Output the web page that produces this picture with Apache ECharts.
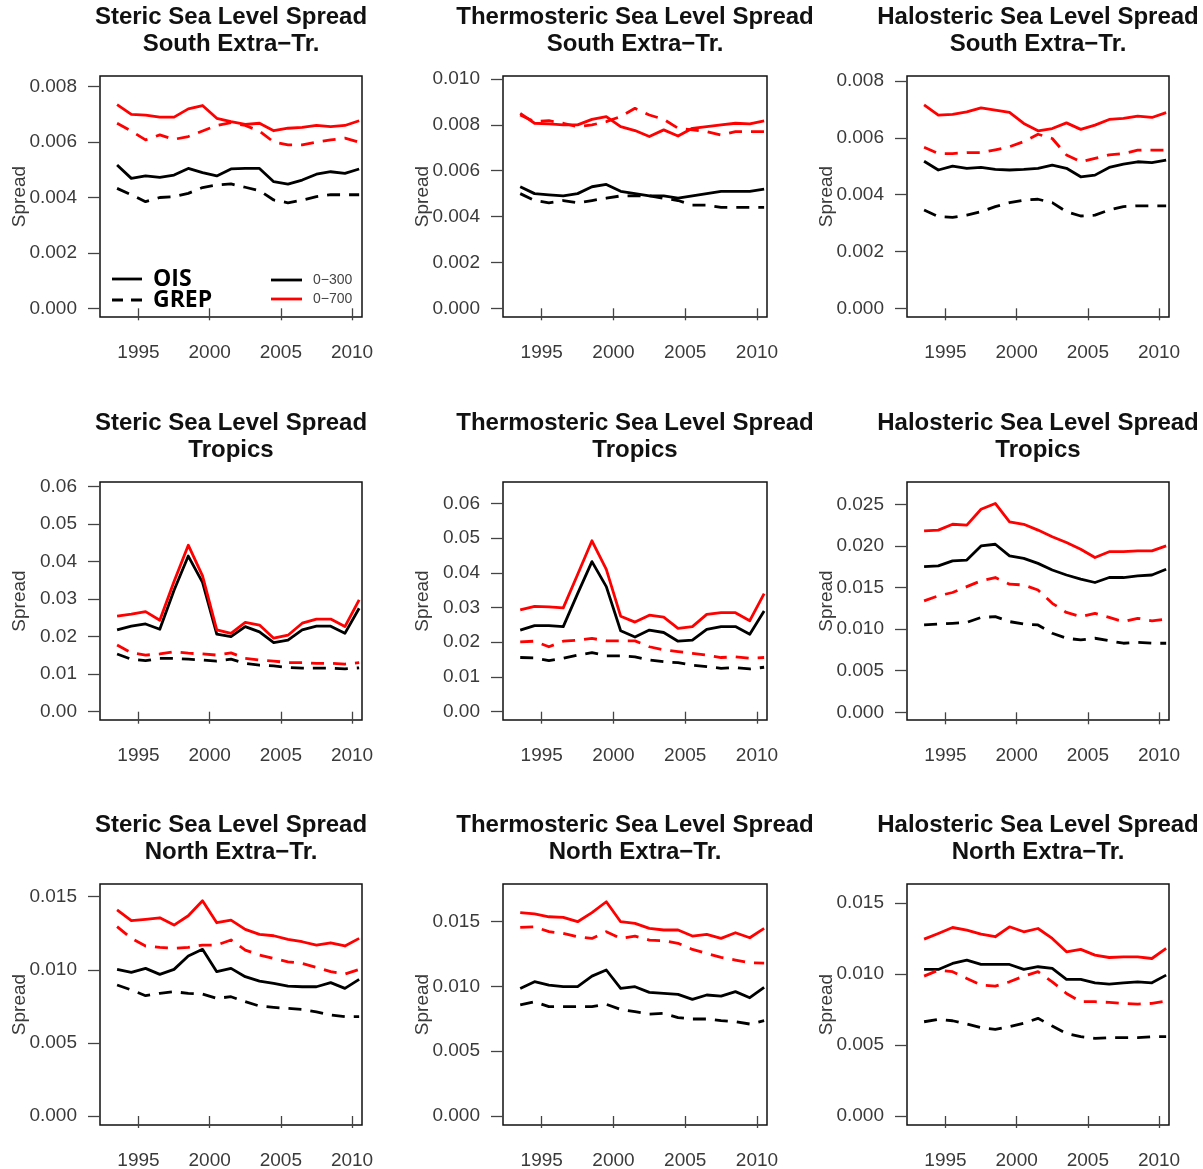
<!DOCTYPE html>
<html>
<head>
<meta charset="utf-8">
<script src="https://cdn.jsdelivr.net/npm/echarts@6/dist/echarts.min.js"></script>
<style>
  html, body { margin: 0; padding: 0; background: #fff; }
  #main { width: 1203px; height: 1169px; }
</style>
</head>
<body>
<div id="main"></div>
<script>
// annual means, mid-year
var years = [1993.5, 1994.5, 1995.5, 1996.5, 1997.5, 1998.5, 1999.5, 2000.5, 2001.5,
             2002.5, 2003.5, 2004.5, 2005.5, 2006.5, 2007.5, 2008.5, 2009.5, 2010.5];
var yearTicks = [1995, 2000, 2005, 2010];

// Steric - South Extra-Tr.
var stSouthOis300  = [0.00517, 0.00469, 0.00478, 0.00473, 0.00481, 0.00505, 0.0049, 0.00478, 0.00503, 0.00505, 0.00505, 0.00457, 0.00448, 0.00463, 0.00484, 0.00493, 0.00487, 0.00503];
var stSouthGrep300 = [0.00433, 0.0041, 0.00385, 0.004, 0.00403, 0.00415, 0.00436, 0.00445, 0.00449, 0.00437, 0.00425, 0.00391, 0.00381, 0.0039, 0.00403, 0.0041, 0.0041, 0.0041];
var stSouthOis700  = [0.00735, 0.0070, 0.00697, 0.0069, 0.0069, 0.0072, 0.00732, 0.00686, 0.00674, 0.00664, 0.00668, 0.00641, 0.0065, 0.00653, 0.0066, 0.00656, 0.0066, 0.00677];
var stSouthGrep700 = [0.00668, 0.0064, 0.00608, 0.00626, 0.0061, 0.0062, 0.0064, 0.0066, 0.0067, 0.0066, 0.0064, 0.006, 0.0059, 0.0059, 0.006, 0.00608, 0.00614, 0.006];

// Thermosteric - South Extra-Tr.
var thSouthOis300  = [0.0053, 0.0050, 0.00495, 0.0049, 0.0050, 0.0053, 0.0054, 0.0051, 0.0050, 0.0049, 0.0049, 0.0048, 0.0049, 0.0050, 0.0051, 0.0051, 0.0051, 0.0052];
var thSouthGrep300 = [0.0050, 0.0047, 0.0046, 0.0047, 0.0046, 0.0047, 0.0048, 0.0049, 0.0049, 0.0049, 0.0048, 0.0047, 0.0045, 0.0045, 0.0044, 0.0044, 0.0044, 0.0044];
var thSouthOis700  = [0.0085, 0.00807, 0.00804, 0.0080, 0.0080, 0.00824, 0.00836, 0.00792, 0.00775, 0.00749, 0.00778, 0.00751, 0.00785, 0.00792, 0.0080, 0.00807, 0.00804, 0.00817];
var thSouthGrep700 = [0.00843, 0.00814, 0.00818, 0.00807, 0.00792, 0.0080, 0.00814, 0.00836, 0.00872, 0.00843, 0.00824, 0.00785, 0.00778, 0.0077, 0.00756, 0.0077, 0.0077, 0.0077];

// Halosteric - South Extra-Tr.
var haSouthOis300  = [0.00518, 0.00487, 0.00501, 0.00493, 0.00496, 0.00489, 0.00487, 0.00489, 0.00493, 0.00504, 0.00493, 0.00463, 0.00469, 0.00496, 0.00508, 0.00516, 0.00513, 0.00522];
var haSouthGrep300 = [0.00346, 0.00323, 0.0032, 0.00328, 0.0034, 0.00358, 0.00372, 0.00381, 0.00384, 0.00372, 0.0034, 0.00325, 0.00328, 0.00346, 0.00358, 0.00361, 0.00361, 0.00361];
var haSouthOis700  = [0.00716, 0.0068, 0.00683, 0.00692, 0.00706, 0.00698, 0.0069, 0.00651, 0.00625, 0.00633, 0.00653, 0.0063, 0.00645, 0.00665, 0.00669, 0.00677, 0.00672, 0.00689];
var haSouthGrep700 = [0.00567, 0.00545, 0.00545, 0.00548, 0.00548, 0.00558, 0.00569, 0.00587, 0.00613, 0.00598, 0.0054, 0.00516, 0.00528, 0.0054, 0.00545, 0.00557, 0.00557, 0.00557];

// Steric - Tropics
var stTropOis300  = [0.0218, 0.0228, 0.0234, 0.022, 0.0324, 0.0415, 0.0345, 0.0207, 0.020, 0.0227, 0.0213, 0.0184, 0.0191, 0.0218, 0.0228, 0.0228, 0.0209, 0.0276];
var stTropGrep300 = [0.0154, 0.014, 0.0136, 0.0142, 0.0142, 0.014, 0.0138, 0.0135, 0.014, 0.0129, 0.0124, 0.0122, 0.0118, 0.0116, 0.0116, 0.0116, 0.0114, 0.0117];
var stTropOis700  = [0.0255, 0.026, 0.0267, 0.0244, 0.0347, 0.0444, 0.0362, 0.0218, 0.0209, 0.0238, 0.0231, 0.0196, 0.0204, 0.0236, 0.0247, 0.0247, 0.0227, 0.0298];
var stTropGrep700 = [0.0178, 0.0157, 0.0151, 0.0154, 0.016, 0.0156, 0.0154, 0.0151, 0.0157, 0.0142, 0.0138, 0.0135, 0.0131, 0.0131, 0.0129, 0.0129, 0.0127, 0.0131];

// Thermosteric - Tropics
var thTropOis300  = [0.0235, 0.0248, 0.0248, 0.0245, 0.034, 0.0432, 0.036, 0.0233, 0.0215, 0.0235, 0.0228, 0.0203, 0.0206, 0.0237, 0.0245, 0.0245, 0.0223, 0.029];
var thTropGrep300 = [0.0156, 0.0155, 0.0147, 0.0154, 0.0163, 0.017, 0.0161, 0.0161, 0.0158, 0.0149, 0.0144, 0.0141, 0.0134, 0.013, 0.0125, 0.0127, 0.0123, 0.0128];
var thTropOis700  = [0.0293, 0.0303, 0.0302, 0.0299, 0.0395, 0.0492, 0.041, 0.0275, 0.0258, 0.0278, 0.0272, 0.024, 0.0245, 0.028, 0.0285, 0.0285, 0.0262, 0.034];
var thTropGrep700 = [0.0201, 0.0203, 0.0187, 0.0203, 0.0206, 0.0211, 0.0204, 0.0204, 0.0204, 0.0187, 0.0178, 0.0173, 0.0168, 0.0163, 0.0156, 0.0158, 0.0154, 0.0156];

// Halosteric - Tropics
var haTropOis300  = [0.0175, 0.0176, 0.0182, 0.0183, 0.020, 0.0202, 0.0188, 0.0185, 0.0179, 0.0171, 0.0165, 0.016, 0.0156, 0.0162, 0.0162, 0.0164, 0.0165, 0.0172];
var haTropGrep300 = [0.0105, 0.0106, 0.0107, 0.0108, 0.0114, 0.0115, 0.0109, 0.0106, 0.0105, 0.0095, 0.0089, 0.0087, 0.0089, 0.0086, 0.0083, 0.0084, 0.0083, 0.0083];
var haTropOis700  = [0.0218, 0.0219, 0.0226, 0.0225, 0.0244, 0.0251, 0.0229, 0.0226, 0.0219, 0.0211, 0.0204, 0.0196, 0.0186, 0.0193, 0.0193, 0.0194, 0.0194, 0.020];
var haTropGrep700 = [0.0134, 0.014, 0.0144, 0.0151, 0.0158, 0.0162, 0.0154, 0.0153, 0.0147, 0.0131, 0.012, 0.0115, 0.0119, 0.0114, 0.0109, 0.0113, 0.011, 0.0112];

// Steric - North Extra-Tr.
var stNorthOis300  = [0.01003, 0.00982, 0.0101, 0.00969, 0.01003, 0.01094, 0.0114, 0.00987, 0.0101, 0.00953, 0.00923, 0.00907, 0.00889, 0.00884, 0.00884, 0.00912, 0.00873, 0.00935];
var stNorthGrep300 = [0.00896, 0.00862, 0.00823, 0.00839, 0.0085, 0.00839, 0.00834, 0.00805, 0.00816, 0.00782, 0.00752, 0.00743, 0.00736, 0.00729, 0.00713, 0.00691, 0.00679, 0.0068];
var stNorthOis700  = [0.0141, 0.01336, 0.01345, 0.01356, 0.01306, 0.0137, 0.01473, 0.01322, 0.0134, 0.01277, 0.01242, 0.01233, 0.01208, 0.01192, 0.01169, 0.01185, 0.01163, 0.01215];
var stNorthGrep700 = [0.01295, 0.01215, 0.01163, 0.01153, 0.01147, 0.01153, 0.01169, 0.01169, 0.01204, 0.01135, 0.01101, 0.01078, 0.01055, 0.01044, 0.01017, 0.00987, 0.00971, 0.01003];

// Thermosteric - North Extra-Tr.
var thNorthOis300  = [0.00985, 0.01037, 0.01011, 0.00998, 0.00998, 0.0108, 0.01127, 0.00985, 0.00998, 0.00954, 0.00947, 0.00939, 0.009, 0.00934, 0.00926, 0.0096, 0.00913, 0.00993];
var thNorthGrep300 = [0.00857, 0.00882, 0.00844, 0.00844, 0.00844, 0.00844, 0.00862, 0.00823, 0.00805, 0.00787, 0.00792, 0.00759, 0.00749, 0.00749, 0.00736, 0.00728, 0.0071, 0.00736];
var thNorthOis700  = [0.0157, 0.0156, 0.01538, 0.01533, 0.015, 0.0157, 0.01654, 0.015, 0.01487, 0.01448, 0.01436, 0.01436, 0.01389, 0.01402, 0.01371, 0.01415, 0.01376, 0.01448];
var thNorthGrep700 = [0.01456, 0.01461, 0.01423, 0.0141, 0.01384, 0.01371, 0.01423, 0.01371, 0.01389, 0.01358, 0.01353, 0.01333, 0.01286, 0.01255, 0.01225, 0.01204, 0.01183, 0.0118];

// Halosteric - North Extra-Tr.
var haNorthOis300  = [0.01031, 0.01031, 0.01073, 0.01097, 0.01066, 0.01066, 0.01066, 0.01031, 0.0105, 0.01038, 0.00961, 0.00961, 0.00937, 0.00928, 0.00937, 0.00944, 0.00937, 0.00991];
var haNorthGrep300 = [0.00663, 0.0068, 0.0067, 0.00647, 0.00621, 0.00609, 0.00628, 0.00652, 0.00687, 0.00633, 0.00581, 0.00558, 0.00546, 0.00551, 0.00551, 0.00551, 0.00558, 0.00558];
var haNorthOis700  = [0.01244, 0.01284, 0.01326, 0.01308, 0.0128, 0.01261, 0.01331, 0.01296, 0.01319, 0.01249, 0.01155, 0.01172, 0.01132, 0.01115, 0.0112, 0.0112, 0.01108, 0.01179];
var haNorthGrep700 = [0.00984, 0.01026, 0.01015, 0.00968, 0.00921, 0.00914, 0.00944, 0.00984, 0.01015, 0.00944, 0.00862, 0.00804, 0.00804, 0.00799, 0.00792, 0.00787, 0.00792, 0.00808];

// y tick labels
var ticksSouth8  = [0, 0.002, 0.004, 0.006, 0.008];
var ticksSouth10 = [0, 0.002, 0.004, 0.006, 0.008, 0.010];
var ticksTrop6   = [0, 0.01, 0.02, 0.03, 0.04, 0.05, 0.06];
var ticksTrop25  = [0, 0.005, 0.010, 0.015, 0.020, 0.025];
var ticksNorth   = [0, 0.005, 0.010, 0.015];

var colNames = ['Steric Sea Level Spread', 'Thermosteric Sea Level Spread', 'Halosteric Sea Level Spread'];
var rowNames = ['South Extra\u2212Tr.', 'Tropics', 'North Extra\u2212Tr.'];

// panel layout (px)
var colLeft = [100, 503, 907];
var colWidth = [262, 264, 262];
var rowTop = [76, 482, 884];
var rowHeight = [241, 238, 241];

var panels = [
  { lines: [stSouthOis300, stSouthGrep300, stSouthOis700, stSouthGrep700], ticks: ticksSouth8, dec: 3, min: -0.000314, max: 0.008386 },
  { lines: [thSouthOis300, thSouthGrep300, thSouthOis700, thSouthGrep700], ticks: ticksSouth10, dec: 3, min: -0.00038, max: 0.01013 },
  { lines: [haSouthOis300, haSouthGrep300, haSouthOis700, haSouthGrep700], ticks: ticksSouth8, dec: 3, min: -0.000306, max: 0.00818 },
  { lines: [stTropOis300, stTropGrep300, stTropOis700, stTropGrep700], ticks: ticksTrop6, dec: 2, min: -0.00221, max: 0.06125 },
  { lines: [thTropOis300, thTropGrep300, thTropOis700, thTropGrep700], ticks: ticksTrop6, dec: 2, min: -0.00239, max: 0.06613 },
  { lines: [haTropOis300, haTropGrep300, haTropOis700, haTropGrep700], ticks: ticksTrop25, dec: 3, min: -0.000925, max: 0.02768 },
  { lines: [stNorthOis300, stNorthGrep300, stNorthOis700, stNorthGrep700], ticks: ticksNorth, dec: 3, min: -0.000616, max: 0.01587 },
  { lines: [thNorthOis300, thNorthGrep300, thNorthOis700, thNorthGrep700], ticks: ticksNorth, dec: 3, min: -0.000695, max: 0.01791 },
  { lines: [haNorthOis300, haNorthGrep300, haNorthOis700, haNorthGrep700], ticks: ticksNorth, dec: 3, min: -0.000633, max: 0.01632 }
];

var lineColors = ['#000000', '#000000', '#ff0000', '#ff0000'];
var dashed = [false, true, false, true];
var dashPattern = [13, 9];
var axisFont = '"Liberation Sans", Arial, Helvetica, sans-serif';

var myChart = echarts.init(document.getElementById('main'), null, { renderer: 'canvas' });

var grids = [], xAxes = [], yAxes = [], series = [], graphics = [];

var $each = function (arr, fn) { for (var i = 0; i < arr.length; i++) fn(arr[i], i); };

$each(panels, function (p, k) {
  var r = Math.floor(k / 3), c = k % 3;
  grids.push({
    left: colLeft[c], top: rowTop[r], width: colWidth[c], height: rowHeight[r],
    show: true, borderColor: '#111', borderWidth: 1.5, backgroundColor: 'transparent',
    containLabel: false, outerBoundsMode: 'none'
  });
  xAxes.push({
    type: 'value', gridIndex: k, min: 1992.3, max: 2010.7,
    axisLine: { show: false },
    splitLine: { show: false },
    axisTick: { show: true, length: 12, customValues: yearTicks, lineStyle: { color: '#444', width: 1.3 } },
    axisLabel: { customValues: yearTicks, margin: 26, fontSize: 19, color: '#3a3a3a', fontFamily: axisFont,
                 formatter: function (v) { return String(v); } }
  });
  yAxes.push({
    type: 'value', gridIndex: k, min: p.min, max: p.max,
    // R overlays the axis title on the tick labels; don't let echarts push it away
    name: 'Spread', nameLocation: 'middle', nameGap: 71, nameRotate: 90, nameMoveOverlap: false,
    nameTextStyle: { fontSize: 19, color: '#3a3a3a', fontFamily: axisFont },
    axisLine: { show: false },
    splitLine: { show: false },
    axisTick: { show: true, length: 12, customValues: p.ticks, lineStyle: { color: '#444', width: 1.3 } },
    axisLabel: { customValues: p.ticks, margin: 23, fontSize: 19, color: '#3a3a3a', fontFamily: axisFont,
                 formatter: (function (d) { return function (v) { return v.toFixed(d); }; })(p.dec) }
  });
  $each(p.lines, function (vals, j) {
    series.push({
      type: 'line', xAxisIndex: k, yAxisIndex: k,
      data: years.map(function (x, i) { return [x, vals[i]]; }),
      symbol: 'none', silent: true,
      lineStyle: { color: lineColors[j], width: 2.8, type: dashed[j] ? dashPattern : 'solid', cap: 'butt', join: 'round' }
    });
  });
  // two-line panel title, centred over the box
  graphics.push({
    type: 'text', x: colLeft[c] + colWidth[c] / 2, y: rowTop[r] - 72,
    style: {
      text: colNames[c] + '\n' + rowNames[r],
      font: 'bold 24px ' + axisFont, fill: '#111',
      align: 'center', verticalAlign: 'top', lineHeight: 27
    }
  });
});

// legend inside the first panel
graphics.push(
  { type: 'line', shape: { x1: 112, y1: 279, x2: 142, y2: 279 }, style: { stroke: '#000', lineWidth: 2.8 } },
  { type: 'line', shape: { x1: 112, y1: 300, x2: 142, y2: 300 }, style: { stroke: '#000', lineWidth: 2.8, lineDash: [11, 8] } },
  { type: 'text', x: 153, y: 279, style: { text: 'OIS', font: 'bold 23px "Open Sans", sans-serif', fill: '#000', verticalAlign: 'middle' } },
  { type: 'text', x: 153, y: 300, style: { text: 'GREP', font: 'bold 23px "Open Sans", sans-serif', fill: '#000', verticalAlign: 'middle' } },
  { type: 'line', shape: { x1: 271, y1: 280, x2: 302, y2: 280 }, style: { stroke: '#000', lineWidth: 2.8 } },
  { type: 'line', shape: { x1: 271, y1: 299, x2: 302, y2: 299 }, style: { stroke: '#ff0000', lineWidth: 2.8 } },
  { type: 'text', x: 313, y: 280, style: { text: '0\u2212300', font: '14px ' + axisFont, fill: '#444', verticalAlign: 'middle' } },
  { type: 'text', x: 313, y: 299, style: { text: '0\u2212700', font: '14px ' + axisFont, fill: '#444', verticalAlign: 'middle' } }
);

var option = {
  animation: false,
  backgroundColor: '#ffffff',
  grid: grids,
  xAxis: xAxes,
  yAxis: yAxes,
  series: series,
  graphic: graphics
};
myChart.setOption(option);
</script>
</body>
</html>
